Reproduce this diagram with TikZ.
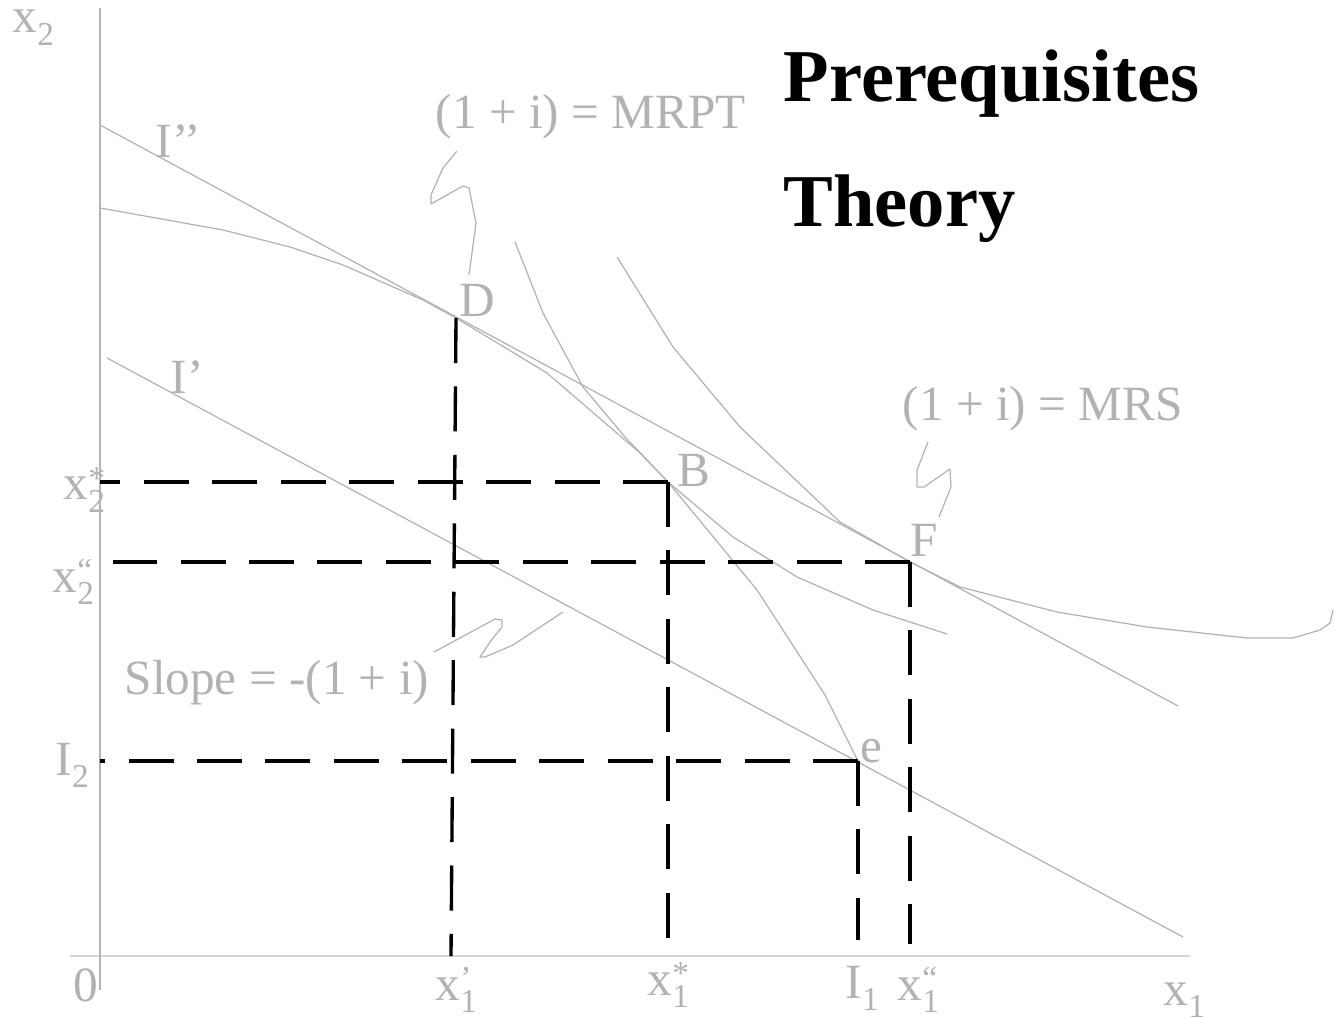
\documentclass[tikz,border=0pt]{standalone}
\usepackage{fontspec}
\setmainfont{Liberation Serif}
\definecolor{lg}{RGB}{178,178,178}
\definecolor{axv}{RGB}{180,180,180}
\definecolor{axh}{RGB}{212,212,212}
\newcommand\mylo[1]{\raisebox{-3.6pt}{\fontsize{9.5pt}{10pt}\selectfont #1}}
\newcommand\myhilo[2]{\rlap{\raisebox{3pt}{\fontsize{9.5pt}{10pt}\selectfont #1}}\mylo{#2}}
\tikzset{
  lbl/.style={text=lg, font=\fontsize{14pt}{16pt}\selectfont, inner sep=0pt, anchor=base west},
  ttl/.style={text=black, font=\fontsize{21.2pt}{24pt}\selectfont\bfseries, inner sep=0pt, anchor=base west},
  dline/.style={draw=black, line width=0.95pt, dash pattern=on 0.45cm off 0.234cm},
  gline/.style={draw=lg, line width=0.35pt, line join=round},
}
\begin{document}
\begin{tikzpicture}[x=0.01cm,y=-0.01cm]
\useasboundingbox (0,0) rectangle (1334,1019);
% axes
\coordinate (O) at (100,956);
\coordinate (xend) at (1190,956);
\coordinate (xstart) at (70,956);
\coordinate (ytop) at (100,8);
\coordinate (ybot) at (100,990);
\draw[axh, line width=0.45pt] (xstart) -- (xend);
\draw[axv, line width=0.4pt] (ytop) -- (ybot);
% key points
\coordinate (D) at (456,318);
\coordinate (B) at (668,482);
\coordinate (F) at (910,562);
\coordinate (E) at (858,761);
% price lines
\draw[gline] (100,125) -- (1178,706);
\draw[gline] (107,358) -- (1183,937);
% production possibility curve
\draw[gline] (100,208) -- (223,230) -- (290,247) -- (343,265) -- (423,300) -- (D) -- (547,373) -- (640,453) -- (B) -- (757,590) -- (825,695) -- (E);
% indifference curve through B
\draw[gline] (515,242) -- (543,313) -- (583,387) -- (625,437) -- (B) -- (733,537) -- (797,577) -- (873,610) -- (947,634);
% indifference curve through F
\draw[gline] (617,257) -- (673,347) -- (740,427) -- (840,522) -- (F) -- (960,587) -- (1057,612) -- (1147,627) -- (1247,638) -- (1293,638) -- (1320,630) -- (1330,623) -- (1333,610);
% callout squiggles
\draw[gline] (457,151) -- (443,168) -- (431,195) -- (431,204) -- (463,186) -- (469,188) -- (476,223) -- (469,275);
\draw[gline] (928,442) -- (917,470) -- (917,487) -- (924,487) -- (950,469) -- (951,487) -- (939,517);
\draw[gline] (434,652) -- (495,619) -- (502,620) -- (502,627) -- (490,642) -- (480,657) -- (485,657) -- (513,645) -- (563,612);
% dashed guide lines
\draw[dline] (D) -- (451,956);
\draw[dline] (B) -- (B |- O);
\draw[dline] (E) -- (858,940);
\draw[dline] (F) -- (910,944);
\draw[dline] (B) -- (B -| O);
\draw[dline] (F) -- (113,562);
\draw[dline] (E) -- (E -| O);
% labels
\node[lbl] (lx2) at (12,33) {x\mylo{2}};
\node[lbl] (lIpp) at (155,158) {I’’};
\node[lbl] (lmrpt) at (435,129) {(1 + i) = MRPT};
\node[lbl] (lD) at (459,317) {D};
\node[lbl] (lIp) at (170,394) {I’};
\node[lbl] (lmrs) at (902,421) {(1 + i) = MRS};
\node[lbl] (lx2s) at (63,500) {x\myhilo{*}{2}};
\node[lbl] (lB) at (677,487) {B};
\node[lbl] (lF) at (910,557) {F};
\node[lbl] (lx2pp) at (52,592) {x\myhilo{“}{2}};
\node[lbl] (lslope) at (124,694) {Slope = -(1 + i)};
\node[lbl] (lI2) at (55,775) {I\mylo{2}};
\node[lbl] (le) at (860,762) {e};
\node[lbl] (l0) at (73,1001) {0};
\node[lbl] (lx1p) at (435,1000) {x\myhilo{’}{1}};
\node[lbl] (lx1s) at (647,995) {x\myhilo{*}{1}};
\node[lbl] (lI1) at (845,998) {I\mylo{1}};
\node[lbl] (lx1pp) at (897,1000) {x\myhilo{“}{1}};
\node[lbl] (lx1) at (1163,1005) {x\mylo{1}};
% title
\node[ttl] (t1) at (783,102) {Prerequisites};
\node[ttl] (t2) at (783,227) {Theory};
\end{tikzpicture}
\end{document}
